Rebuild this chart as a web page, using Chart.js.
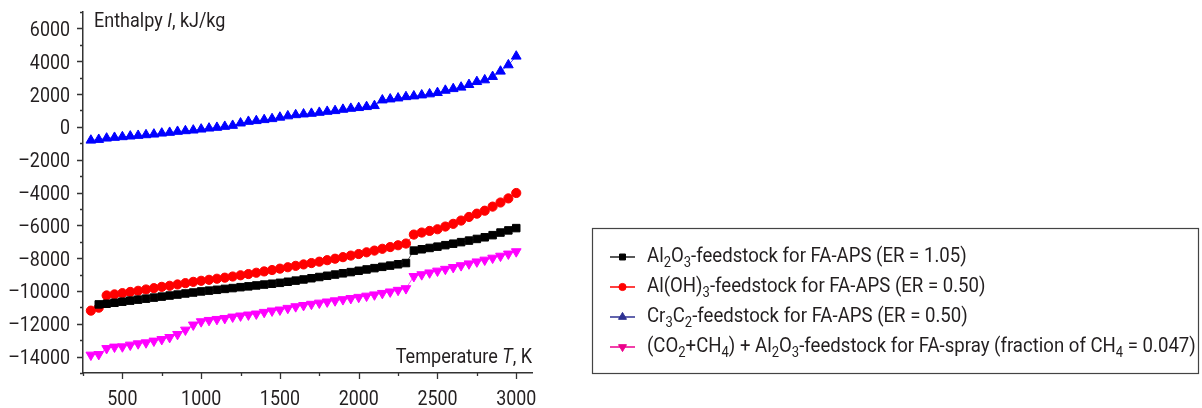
<!DOCTYPE html>
<html lang="en">
<head>
<meta charset="UTF-8">
<title>Enthalpy vs temperature</title>
<script src="https://cdn.jsdelivr.net/npm/chart.js@4.4.1/dist/chart.umd.min.js"></script>
<style>
  html, body { margin: 0; padding: 0; background: #fff; }
  #wrap { width: 1202px; height: 408px; }
</style>
</head>
<body>
<div id="wrap"><canvas id="chart" width="1202" height="408"></canvas></div>
<script>
// temperature, K
const temps = [300, 350, 400, 450, 500, 550, 600, 650, 700, 750,
  800, 850, 900, 950, 1000, 1050, 1100, 1150, 1200, 1250,
  1300, 1350, 1400, 1450, 1500, 1550, 1600, 1650, 1700, 1750,
  1800, 1850, 1900, 1950, 2000, 2050, 2100, 2150, 2200, 2250,
  2300, 2350, 2400, 2450, 2500, 2550, 2600, 2650, 2700, 2750,
  2800, 2850, 2900, 2950, 3000];

// enthalpy, kJ/kg
const al2o3 = [null, -10820, -10780, -10720, -10655, -10590, -10530, -10470, -10405, -10345,
  -10280, -10220, -10155, -10095, -10030, -9980, -9930, -9875, -9825, -9770,
  -9720, -9665, -9610, -9560, -9505, -9440, -9370, -9300, -9225, -9150,
  -9075, -9000, -8925, -8850, -8770, -8690, -8610, -8530, -8455, -8375,
  -8300, -7540, -7460, -7380, -7300, -7210, -7120, -7025, -6930, -6830,
  -6730, -6600, -6440, -6310, -6170];

const aloh3 = [-11200, -11020, -10275, -10210, -10135, -10060, -9990, -9910, -9830, -9750,
  -9685, -9605, -9525, -9445, -9380, -9320, -9255, -9190, -9120, -9045,
  -8970, -8890, -8810, -8725, -8640, -8555, -8470, -8385, -8300, -8215,
  -8125, -8035, -7940, -7845, -7750, -7645, -7540, -7430, -7325, -7215,
  -7110, -6565, -6440, -6340, -6240, -6075, -5910, -5710, -5490, -5290,
  -5110, -4860, -4610, -4360, -4030];

const cr3c2 = [-820, -775, -695, -650, -610, -570, -530, -490, -450, -390,
  -345, -285, -245, -205, -145, -85, -40, 20, 80, 225,
  325, 370, 430, 490, 580, 660, 730, 775, 815, 875,
  935, 980, 1060, 1120, 1165, 1225, 1285, 1630, 1690, 1750,
  1830, 1875, 1935, 2000, 2080, 2220, 2320, 2410, 2570, 2750,
  2855, 3060, 3385, 3770, 4300];

const co2ch4 = [-13900, -13865, -13500, -13410, -13395, -13290, -13210, -13150, -13045, -12950,
  -12825, -12640, -12375, -12065, -11865, -11785, -11725, -11665, -11580, -11515,
  -11455, -11395, -11295, -11210, -11150, -11050, -10950, -10875, -10800, -10730,
  -10660, -10590, -10520, -10450, -10380, -10305, -10230, -10140, -10050, -9950,
  -9850, -9110, -9000, -8890, -8780, -8670, -8560, -8450, -8340, -8220,
  -8110, -7990, -7870, -7740, -7600];

// "_n" marks a subscript digit
const seriesNames = [
  'Al_2O_3-feedstock for FA-APS (ER = 1.05)',
  'Al(OH)_3-feedstock for FA-APS (ER = 0.50)',
  'Cr_3C_2-feedstock for FA-APS (ER = 0.50)',
  '(CO_2+CH_4) + Al_2O_3-feedstock for FA-spray (fraction of CH_4 = 0.047)'
];
const yTitle = ['Enthalpy ', 'I', ', kJ/kg'];
const xTitle = ['Temperature ', 'T', ', K'];

const FONT = 'Roboto, "Liberation Sans", sans-serif';
const TEXT = '#231f20';
const AXIS = '#333333';

const styles = [
  { color: '#000000', line: '#555555', shape: 'rect', r: 5.3, rot: 0, legend: '#000000', legLine: '#222222', legR: 4.2 },
  { color: '#ff0000', line: '#ff5050', shape: 'circle', r: 4.6, rot: 0, legend: '#ff0000', legLine: '#ff0000', legR: 3.6 },
  { color: '#0000ff', line: '#5050ff', shape: 'triangle', r: 5.6, rot: 0, legend: '#2e3192', legLine: '#2e3192', legR: 4.6 },
  { color: '#ff00ff', line: '#ff50ff', shape: 'triangle', r: 5.6, rot: 180, legend: '#ec008c', legLine: '#ec008c', legR: 4.6 }
];

function fmt(v) { return v < 0 ? '\u2013' + Math.abs(v) : String(v); }

// text squeezed horizontally to imitate the condensed face of the original
function squeezed(ctx, str, x, y, font, sx, align) {
  ctx.font = font;
  const w = ctx.measureText(str).width * sx;
  let left = x;
  if (align === 'right') left = x - w;
  if (align === 'center') left = x - w / 2;
  ctx.save();
  ctx.translate(left, y);
  ctx.scale(sx, 1);
  ctx.textAlign = 'left';
  ctx.fillText(str, 0, 0);
  ctx.restore();
  return w;
}

function drawRich(ctx, str, x, y, size, sx) {
  const parts = str.split(/_(\d)/);
  parts.forEach((p, i) => {
    if (!p) return;
    const sub = i % 2 === 1;
    const f = (sub ? Math.round(size * 0.72) : size) + 'px ' + FONT;
    x += squeezed(ctx, p, x, sub ? y + size * 0.3 : y, f, sx, 'left');
  });
  return x;
}

function drawTitle(ctx, parts, x, y, size, sx, alignRight) {
  const fonts = parts.map((p, i) => (i === 1 ? 'italic ' : '') + size + 'px ' + FONT);
  let w = 0;
  parts.forEach((p, i) => { ctx.font = fonts[i]; w += ctx.measureText(p).width * sx; });
  let cx = alignRight ? x - w : x;
  parts.forEach((p, i) => { cx += squeezed(ctx, p, cx, y, fonts[i], sx, 'left'); });
}

function marker(ctx, shape, r, rot, x, y) {
  if (Chart.helpers && Chart.helpers.drawPoint) {
    Chart.helpers.drawPoint(ctx, { pointStyle: shape, radius: r, rotation: rot, borderWidth: 1 }, x, y);
    return;
  }
  ctx.beginPath();
  ctx.arc(x, y, r, 0, Math.PI * 2);
  ctx.fill();
}

const decorations = {
  id: 'decorations',
  afterDraw(chart) {
    const ctx = chart.ctx;
    const xs = chart.scales.x, ys = chart.scales.y;
    const area = chart.chartArea;
    ctx.save();
    // tick marks
    ctx.strokeStyle = AXIS;
    ctx.lineWidth = 1.3;
    ctx.beginPath();
    ys.ticks.forEach(t => {
      const py = Math.round(ys.getPixelForValue(t.value)) + 0.5;
      const len = t.value % 2000 === 0 ? 6 : 3;
      ctx.moveTo(area.left, py); ctx.lineTo(area.left - len, py);
    });
    xs.ticks.forEach(t => {
      if (t.value % 250 !== 0) return;
      const px = Math.round(xs.getPixelForValue(t.value)) + 0.5;
      const len = t.value % 500 === 0 ? 6 : 3;
      ctx.moveTo(px, area.bottom); ctx.lineTo(px, area.bottom + len);
    });
    ctx.stroke();

    // tick labels
    ctx.fillStyle = TEXT;
    ctx.textBaseline = 'alphabetic';
    const tickFont = '21px ' + FONT;
    ys.ticks.forEach(t => {
      if (t.value % 2000 !== 0) return;
      squeezed(ctx, fmt(t.value), 70, ys.getPixelForValue(t.value) + 7.5, tickFont, 0.85, 'right');
    });
    xs.ticks.forEach(t => {
      if (t.value % 500 !== 0) return;
      squeezed(ctx, String(t.value), xs.getPixelForValue(t.value), 405, tickFont, 0.85, 'center');
    });

    // axis titles
    drawTitle(ctx, yTitle, 94, 27, 20, 0.9, false);
    drawTitle(ctx, xTitle, 532, 363, 21, 0.86, true);

    // legend
    ctx.strokeStyle = '#444444';
    ctx.lineWidth = 1.2;
    ctx.strokeRect(592.5, 228.5, 606, 145);
    const rows = [257, 287, 317, 347];
    ctx.textBaseline = 'middle';
    seriesNames.forEach((name, i) => {
      const s = styles[i];
      const y = rows[i];
      ctx.strokeStyle = s.legLine;
      ctx.lineWidth = 1.5;
      ctx.beginPath();
      ctx.moveTo(610, y); ctx.lineTo(635, y);
      ctx.stroke();
      ctx.fillStyle = s.legend;
      ctx.strokeStyle = s.legend;
      ctx.lineWidth = 1;
      marker(ctx, s.shape, s.legR, s.rot, 622.5, y);
      ctx.fillStyle = TEXT;
      drawRich(ctx, name, 647, y, 20, 0.93);
    });
    ctx.restore();
  }
};

const datasets = [al2o3, aloh3, cr3c2, co2ch4].map((arr, i) => ({
  label: seriesNames[i].replace(/_/g, ''),
  data: temps.map((t, j) => ({ x: t, y: arr[j] })),
  borderColor: styles[i].line,
  borderWidth: 1,
  backgroundColor: styles[i].color,
  pointBackgroundColor: styles[i].color,
  pointBorderColor: styles[i].color,
  pointBorderWidth: 1,
  pointStyle: styles[i].shape,
  pointRotation: styles[i].rot,
  pointRadius: styles[i].r,
  fill: false,
  tension: 0
}));

new Chart(document.getElementById('chart').getContext('2d'), {
  type: 'line',
  data: { datasets: datasets },
  options: {
    responsive: false,
    animation: false,
    layout: { padding: { top: 12, right: 670, left: 0, bottom: 0 } },
    plugins: { legend: { display: false }, tooltip: { enabled: false } },
    scales: {
      x: {
        type: 'linear',
        min: 250,
        max: 3100,
        grid: { display: false, drawTicks: false },
        border: { display: true, color: AXIS, width: 1.5 },
        ticks: { display: false, stepSize: 250, autoSkip: false, includeBounds: false },
        afterFit: s => { s.height = 35; }
      },
      y: {
        min: -15000,
        max: 7000,
        grid: { display: false, drawTicks: false },
        border: { display: true, color: AXIS, width: 1.5 },
        ticks: { display: false, stepSize: 1000, autoSkip: false },
        afterFit: s => { s.width = 83; }
      }
    }
  },
  plugins: [decorations]
});
</script>
</body>
</html>
